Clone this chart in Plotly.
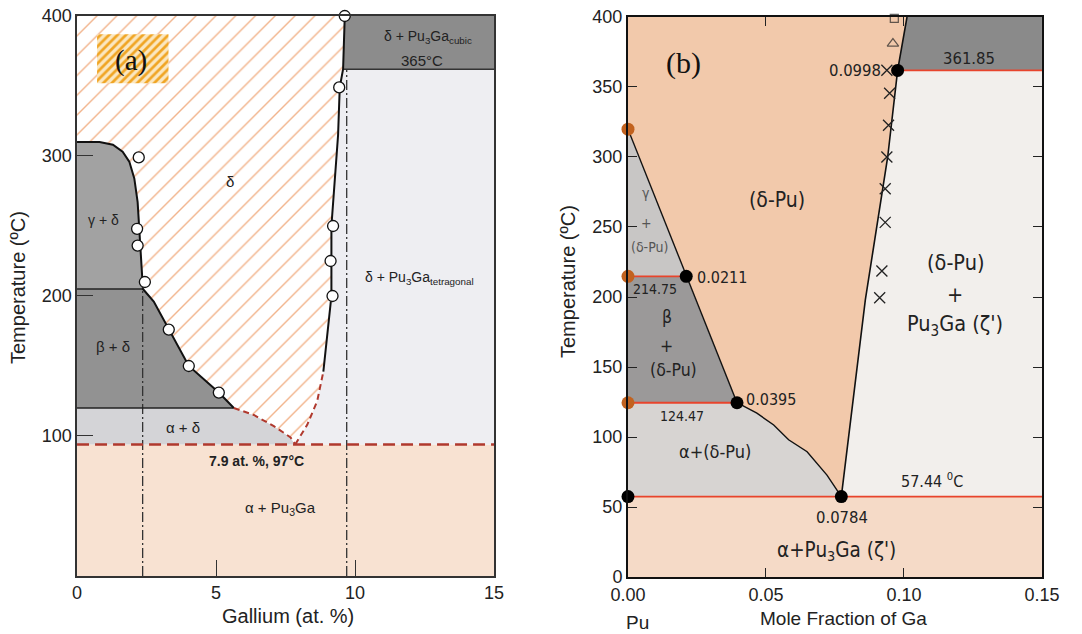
import plotly.graph_objects as go

# ================= Panel (a) data =================
a_x_ticks = [0, 5, 10, 15]
a_y_ticks = [100, 200, 300, 400]
a_eutectoid_T = 94
a_beta_gamma_T = 205
a_alpha_beta_T = 120
a_cubic_T = 362
a_gamma_x = [0, 0.81, 1.29, 1.64, 1.88, 2.06, 2.18, 2.24, 2.30, 2.34, 2.37]
a_gamma_T = [310, 310, 308, 303, 296, 284, 267, 248, 229, 209, 205]
a_beta_x = [2.37, 2.76, 3.30, 4.02, 5.10, 5.64]
a_beta_T = [205, 196, 176, 150, 131, 120]
a_alpha_dash_x = [5.64, 6.36, 7.08, 7.68, 7.85]
a_alpha_dash_T = [120, 115, 107, 99, 94]
a_right_dash_x = [7.85, 8.28, 8.64, 8.86]
a_right_dash_T = [94, 108, 125, 146]
a_right_x = [8.86, 8.94, 9.12, 9.15, 9.15, 9.39, 9.45, 9.57, 9.63]
a_right_T = [146, 160, 196, 200, 250, 315, 349, 362, 400]
a_circ_x = [9.63, 9.43, 9.21, 9.12, 9.19, 2.22, 2.16, 2.18, 2.44, 3.30, 4.02, 5.10]
a_circ_T = [400, 349, 250, 225, 200, 299, 248, 236, 210, 176, 150, 131]
a_dashdot_x = [2.36, 9.70]
a_dashdot_top = [205, 362]
a_label_box_x = [0.72, 3.29]
a_label_box_T = [352, 387]

# ================= Panel (b) data =================
b_x_ticks = [0.00, 0.05, 0.10, 0.15]
b_y_ticks = [0, 50, 100, 150, 200, 250, 300, 350, 400]
b_T_eut = 57.44
b_T_ab = 124.47
b_T_bg = 214.75
b_T_gd = 319.86
b_T_per = 361.85
b_c_eut = 0.0773
b_c_ab = 0.0395
b_c_bg = 0.0211
b_c_per = 0.0977
b_alpha_curve_x = [0.0395, 0.0467, 0.0528, 0.0582, 0.0649, 0.0721, 0.0773]
b_alpha_curve_T = [124.47, 117, 108.6, 98, 89.5, 72.8, 57.44]
b_solvus_x = [0.0773, 0.0860, 0.0941, 0.0977, 0.1011]
b_solvus_T = [57.44, 198, 300, 361.85, 400]
b_xmark_x = [0.0938, 0.0948, 0.0944, 0.0938, 0.0932, 0.0932, 0.0920, 0.0912]
b_xmark_T = [362, 345.5, 322.7, 300, 277.3, 253.3, 218.6, 199.5]
b_tri = (0.0960, 381)
b_sq = (0.0965, 399)

fig = go.Figure()

def poly(xs, ys, color, xa="x", ya="y", pattern=None):
    kw = {}
    if pattern is not None:
        kw["fillpattern"] = pattern
    fig.add_trace(go.Scatter(x=xs, y=ys, fill="toself", fillcolor=color, mode="lines",
                             line=dict(width=0), hoverinfo="skip", xaxis=xa, yaxis=ya, **kw))

def line(xs, ys, color, width, dash="solid", xa="x", ya="y"):
    fig.add_trace(go.Scatter(x=xs, y=ys, mode="lines", line=dict(color=color, width=width, dash=dash),
                             hoverinfo="skip", xaxis=xa, yaxis=ya, cliponaxis=False))

# ---------------- Panel (a) fills ----------------
poly([0, 15, 15, 0], [0, 0, a_eutectoid_T, a_eutectoid_T], "#F8E2D2")
rx = a_right_dash_x + a_right_x[:-1]
rT = a_right_dash_T + a_right_T[:-1]
poly(rx + [15, 15], rT + [a_cubic_T, a_eutectoid_T], "#EEEEF2")
poly([a_right_x[-2], a_right_x[-1], 15, 15], [a_cubic_T, 400, 400, a_cubic_T], "#8C8C8C")
poly([0, 0] + a_alpha_dash_x, [a_eutectoid_T, a_alpha_beta_T] + a_alpha_dash_T, "#D4D4D7")
poly([0, 0] + a_beta_x, [a_alpha_beta_T, a_beta_gamma_T] + a_beta_T, "#929292")
poly([0] + a_gamma_x, [a_beta_gamma_T] + a_gamma_T, "#A2A2A2")
dx = [0] + a_gamma_x + a_beta_x[1:] + a_alpha_dash_x[1:] + a_right_dash_x[1:] + a_right_x[1:]
dT = [400] + a_gamma_T + a_beta_T[1:] + a_alpha_dash_T[1:] + a_right_dash_T[1:] + a_right_T[1:]
poly(dx, dT, "white", pattern=dict(shape="/", size=14, solidity=0.1, fgcolor="#F2B48C",
                                   bgcolor="white", fillmode="replace"))
bx0, bx1 = a_label_box_x
bT0, bT1 = a_label_box_T
poly([bx0, bx1, bx1, bx0], [bT0, bT0, bT1, bT1], "white",
     pattern=dict(shape="/", size=6, solidity=0.45, fgcolor="#F0A524", bgcolor="#FBE7C0", fillmode="replace"))

# ---------------- Panel (a) lines ----------------
for xx, top in zip(a_dashdot_x, a_dashdot_top):
    line([xx, xx], [0, top], "#333333", 1.3, "10px,3px,2px,3px")
line([0, a_gamma_x[-1]], [a_beta_gamma_T, a_beta_gamma_T], "#222222", 1.5)
line([0, a_beta_x[-1]], [a_alpha_beta_T, a_alpha_beta_T], "#222222", 1.5)
line([a_right_x[-2], 15], [a_cubic_T, a_cubic_T], "#333333", 1.5)
line(a_gamma_x + a_beta_x[1:], a_gamma_T + a_beta_T[1:], "#111111", 2)
line(a_right_x, a_right_T, "#111111", 2)
line(a_alpha_dash_x, a_alpha_dash_T, "#B0392E", 2, "6px,4px")
line(a_right_dash_x, a_right_dash_T, "#B0392E", 2, "6px,4px")
line([0, 15], [a_eutectoid_T, a_eutectoid_T], "#B0392E", 2.5, "12px,6px")
fig.add_trace(go.Scatter(x=a_circ_x, y=a_circ_T, mode="markers", cliponaxis=False, hoverinfo="skip",
                         marker=dict(symbol="circle", size=11, color="white",
                                     line=dict(color="#111111", width=1.3)), xaxis="x", yaxis="y"))

# ---------------- Panel (b) fills ----------------
poly([0, 0.15, 0.15, 0], [0, 0, b_T_eut, b_T_eut], "#F5DAC7", "x2", "y2")
poly([0, 0] + b_alpha_curve_x, [b_T_eut, b_T_ab] + b_alpha_curve_T, "#D7D4D2", "x2", "y2")
poly([0, 0, b_c_bg, b_c_ab], [b_T_ab, b_T_bg, b_T_bg, b_T_ab], "#9B9999", "x2", "y2")
poly([0, 0, b_c_bg], [b_T_bg, b_T_gd, b_T_bg], "#C8C6C5", "x2", "y2")
poly([0, 0] + b_solvus_x[::-1] + b_alpha_curve_x[::-1][1:] + [b_c_bg],
     [b_T_gd, 400] + b_solvus_T[::-1] + b_alpha_curve_T[::-1][1:] + [b_T_bg], "#F2C9AB", "x2", "y2")
poly(b_solvus_x[:-1] + [0.15, 0.15], b_solvus_T[:-1] + [b_T_per, b_T_eut], "#F2EFEC", "x2", "y2")
poly([b_c_per, b_solvus_x[-1], 0.15, 0.15], [b_T_per, 400, 400, b_T_per], "#8A8A8A", "x2", "y2")

# ---------------- Panel (b) lines ----------------
red = "#E8442C"
line([0, 0.15], [b_T_eut, b_T_eut], red, 1.6, xa="x2", ya="y2")
line([0, b_c_ab], [b_T_ab, b_T_ab], red, 1.8, xa="x2", ya="y2")
line([0, b_c_bg], [b_T_bg, b_T_bg], red, 1.8, xa="x2", ya="y2")
line([b_c_per, 0.15], [b_T_per, b_T_per], red, 1.6, xa="x2", ya="y2")
line([0, b_c_bg, b_c_ab], [b_T_gd, b_T_bg, b_T_ab], "#111111", 1.4, xa="x2", ya="y2")
line(b_alpha_curve_x, b_alpha_curve_T, "#111111", 1.4, xa="x2", ya="y2")
line(b_solvus_x, b_solvus_T, "#111111", 1.6, xa="x2", ya="y2")
fig.add_trace(go.Scatter(x=b_xmark_x, y=b_xmark_T, mode="markers", cliponaxis=False, hoverinfo="skip",
                         marker=dict(symbol="x-thin", size=11, line=dict(color="#222222", width=1.3)),
                         xaxis="x2", yaxis="y2"))
fig.add_trace(go.Scatter(x=[b_tri[0], b_sq[0]], y=[b_tri[1], b_sq[1]], mode="markers", cliponaxis=False,
                         hoverinfo="skip",
                         marker=dict(symbol=["triangle-up-open", "square-open"], size=[10, 8], color="#222222",
                                     line=dict(width=1.2)), xaxis="x2", yaxis="y2"))
fig.add_trace(go.Scatter(x=[0, b_c_eut, b_c_ab, b_c_bg, b_c_per], y=[b_T_eut, b_T_eut, b_T_ab, b_T_bg, b_T_per],
                         mode="markers", cliponaxis=False, hoverinfo="skip",
                         marker=dict(size=13, color="black"), xaxis="x2", yaxis="y2"))
fig.add_trace(go.Scatter(x=[0, 0, 0], y=[b_T_ab, b_T_bg, b_T_gd], mode="markers", cliponaxis=False,
                         hoverinfo="skip", marker=dict(size=13, color="#C2621F"), xaxis="x2", yaxis="y2"))

# ---------------- Annotations ----------------
SANS = "Liberation Sans, Arial, sans-serif"
NARROW = "DejaVu Sans Condensed, Liberation Sans, sans-serif"
SERIF = "Liberation Serif, Times New Roman, serif"
ann = []

def t(x, y, text, size, xa="x", ya="y", family=SANS, color="#222222", xanchor="center", angle=0):
    ann.append(dict(x=x, y=y, xref=xa, yref=ya, text=text, showarrow=False, xanchor=xanchor,
                    yanchor="middle", textangle=angle, font=dict(size=size, family=family, color=color)))

# panel (a)
t(1.94, 368.5, "(a)", 29, family=SERIF, color="#111111")
t(5.52, 281.5, "δ", 15)
t(0.95, 254, "γ + δ", 14)
t(1.28, 164, "β + δ", 15)
t(3.80, 106, "α + δ", 15)
t(6.44, 82, "<b>7.9 at. %, 97°C</b>", 14)
t(7.32, 48, "α + Pu<sub>3</sub>Ga", 15)
t(12.31, 213, "δ + Pu<sub>3</sub>Ga<sub>tetragonal</sub>", 14)
t(12.61, 385, "δ + Pu<sub>3</sub>Ga<sub>cubic</sub>", 14)
t(12.40, 368.5, "365°C", 15)

# panel (b)
X2, Y2 = "x2", "y2"
t(0.0202, 367, "(b)", 30, X2, Y2, family=SERIF, color="#111111")
t(0.0540, 269, "(δ-Pu)", 21, X2, Y2, family=NARROW)
t(0.0066, 274, "γ", 14, X2, Y2, family=NARROW, color="#555555")
t(0.0066, 253, "+", 14, X2, Y2, family=NARROW, color="#555555")
t(0.0079, 235.5, "(δ-Pu)", 14, X2, Y2, family=NARROW, color="#555555")
t(0.0244, 214, "0.0211", 16, X2, Y2, family=NARROW, xanchor="left")
t(0.0099, 205.5, "214.75", 14, X2, Y2, family=NARROW)
t(-0.0037, 317.5, "319.86", 12, X2, Y2, family=NARROW, xanchor="right")
t(0.0924, 361.7, "0.0998", 16.5, X2, Y2, family=NARROW, xanchor="right")
t(0.1234, 370.6, "361.85", 16.5, X2, Y2, family=NARROW)
t(0.1186, 225, "(δ-Pu)", 21.5, X2, Y2, family=NARROW)
t(0.1186, 202, "+", 21.5, X2, Y2, family=NARROW)
t(0.1186, 180, "Pu<sub>3</sub>Ga (ζ')", 21.5, X2, Y2, family=NARROW)
t(0.0141, 186, "β", 17.5, X2, Y2, family=NARROW)
t(0.0141, 165, "+", 17.5, X2, Y2, family=NARROW)
t(0.0165, 147.6, "(δ-Pu)", 17.5, X2, Y2, family=NARROW)
t(0.0419, 126.6, "0.0395", 16, X2, Y2, family=NARROW, xanchor="left")
t(0.0196, 114.8, "124.47", 14, X2, Y2, family=NARROW)
t(0.0316, 89.7, "α+(δ-Pu)", 18, X2, Y2, family=NARROW)
t(0.1101, 68.9, "57.44 <sup>0</sup>C", 16, X2, Y2, family=NARROW)
t(0.0775, 42.6, "0.0784", 16.5, X2, Y2, family=NARROW)
t(0.0757, 18.7, "α+Pu<sub>3</sub>Ga (ζ')", 20.5, X2, Y2, family=NARROW)

def p(px, py, text, size, angle=0):
    ann.append(dict(x=px / 1082, y=1 - py / 634, xref="paper", yref="paper", text=text, showarrow=False,
                    xanchor="center", yanchor="middle", textangle=angle,
                    font=dict(size=size, family=SANS, color="#222222")))

p(18, 288, "Temperature (ºC)", 20, -90)
p(288, 616, "Gallium (at. %)", 20)
p(568, 282, "Temperature (ºC)", 20, -90)
p(843, 618, "Mole Fraction of Ga", 19)
p(637, 622, "Pu", 19)

axis_font = dict(size=18, family=SANS, color="#222222")
fig.update_layout(
    width=1082, height=634, margin=dict(l=0, r=0, t=0, b=0, pad=0, autoexpand=False),
    paper_bgcolor="white", plot_bgcolor="white", showlegend=False,
    annotations=ann,
    xaxis=dict(domain=[0.0712, 0.4566], range=[0, 15], tickvals=a_x_ticks, ticks="inside", ticklen=16,
               tickcolor="#333333", tickwidth=1.3, showgrid=False, zeroline=False, showline=True,
               mirror=True, linecolor="#333333", linewidth=1.5, tickfont=axis_font, anchor="y",
               automargin=False),
    yaxis=dict(domain=[0.0915, 0.9748], range=[0, 400], tickvals=a_y_ticks, ticks="inside", ticklen=16,
               tickcolor="#333333", tickwidth=1.3, showgrid=False, zeroline=False, showline=True,
               mirror=True, linecolor="#333333", linewidth=1.5, tickfont=axis_font, anchor="x",
               automargin=False),
    xaxis2=dict(domain=[0.5804, 0.9630], range=[0, 0.15], tickvals=b_x_ticks, tickformat=".2f",
                ticks="inside", ticklen=9, tickcolor="#222222", tickwidth=1.3, showgrid=False,
                zeroline=False, showline=True, mirror="ticks", linecolor="#111111", linewidth=2,
                tickfont=axis_font, anchor="y2", automargin=False),
    yaxis2=dict(domain=[0.0899, 0.9732], range=[0, 400], tickvals=b_y_ticks, ticks="inside", ticklen=9,
                tickcolor="#222222", tickwidth=1.3, showgrid=False, zeroline=False, showline=True,
                mirror="ticks", linecolor="#111111", linewidth=2, tickfont=axis_font, anchor="x2",
                automargin=False),
)

fig.write_html("out.html", config={"displayModeBar": False},
               post_script="document.body.style.margin='0';")
